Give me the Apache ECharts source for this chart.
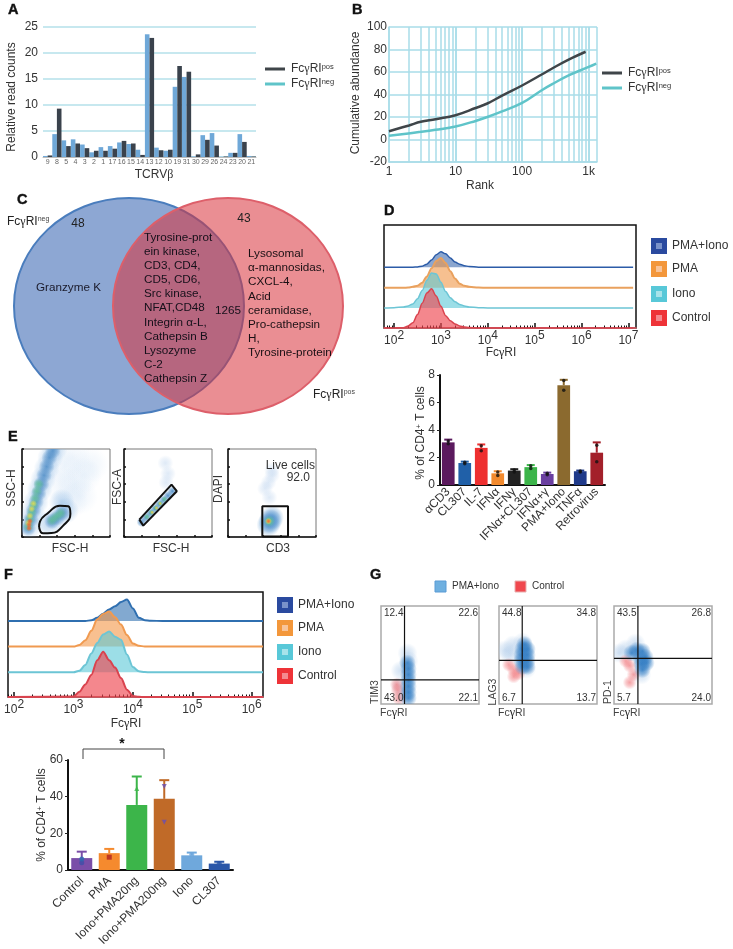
<!DOCTYPE html>
<html lang="en">
<head>
<meta charset="UTF-8">
<title>FcγRI figure</title>
<script src="https://cdn.jsdelivr.net/npm/echarts@6/dist/echarts.min.js"></script>
<style>
  html, body { margin: 0; padding: 0; background: #fff; }
  #main { width: 733px; height: 949px; }
</style>
</head>
<body>
<div id="main"></div>
<script>
// panel A
var tcrLabels = ['9','8','5','4','3','2','1','17','16','15','14','13','12','10','19','31','30','29','26','24','23','20','21'];
var tcrNeg = [0.2,4.4,3.2,3.4,2.4,0.9,1.9,2.1,2.8,2.5,1.4,23.6,1.8,1.2,13.5,15.4,0.1,4.2,4.6,0.05,0.8,4.4,0.2];
var tcrPos = [0.3,9.3,2.1,2.6,1.7,1.2,1.2,1.6,3.1,2.6,0.4,22.9,1.3,1.4,17.5,16.4,0.5,3.3,2.2,0.1,0.8,2.9,0.1];

// panel B
var rankPos = [[1,7.4],[2,12.5],[3,15.7],[5,18],[10,21.6],[20,28],[30,32],[50,39],[100,48],[200,58],[300,64],[500,71],[900,78]];
var rankNeg = [[1,3.3],[3,6.8],[5,8.6],[10,11.5],[20,16.5],[30,20],[50,25],[100,32.5],[200,44],[300,50],[500,57],[1000,64.5],[1300,67.5]];
var rankGrid = [2,3,4,5,6,7,8,9,20,30,40,50,60,70,80,90,200,300,400,500,600,700,800,900];

// panel D histograms
var dExp = [1.79,2.0,2.2,2.3,2.4,2.5,2.6,2.7,2.8,2.9,3.0,3.1,3.2,3.3,3.4,3.5,3.6,3.8,4,5,6,7.1];
var dPmaIono = [0,0,0,0,0,0.3,1,3,7,12,15,13,9,5,3,1.5,0.6,0.1,0,0,0,0];
var dPma = [0,0,0,0.3,1,2,5,11,19,26,29,24,16,9,4,2,1,0.3,0,0,0,0];
var dIono = [0,0.3,1,2,4,9,17,27,34,33,25,16,10,6,3.5,2,1,0.3,0,0,0,0];
var dControl = [0,0,0.3,2,5,13,24,34,38,31,21,12,7,4,2,1,0.4,0,0,0,0,0];

// panel D bars
var dCats = ['αCD3','CL307','IL-7','IFNα','IFNγ','IFNα+CL307','IFNα+γ','PMA+Iono','TNFα','Retrovirus'];
var dVals = [3.1,1.6,2.7,0.85,1.05,1.3,0.8,7.25,1.0,2.35];
var dErrTop = [3.3,1.7,2.95,1.0,1.15,1.45,0.9,7.65,1.05,3.1];
var dColors = ['#5b1a5e','#2060a8','#ee3030','#f28a2e','#222222','#3cb54a','#6a3fa0','#8b6a2f','#1f3a8a','#a3202a'];
var dDots = [[0,3.0],[0,3.2],[1,1.55],[1,1.65],[2,2.5],[2,2.85],[3,0.7],[3,0.95],[4,0.95],[4,1.1],[5,1.2],[5,1.4],[6,0.75],[6,0.85],[7,6.9],[7,7.6],[8,0.95],[8,1.02],[9,1.7],[9,2.9]];

// panel E gates and density blobs
var e1Gate = [[19.4,11.4],[24,4.2],[33.4,4.5],[46.8,12.9],[55,26.5],[52.5,34.9],[43,35.6],[29.6,27.3],[20.5,17.8],[19.4,11.4]];
var e2Gate = [[17.4,19.7],[21.9,12.9],[60,52],[54,59.5],[17.4,19.7]];
var e3Gate = [[39,0.5],[39,34.9],[68.2,34.9],[68.2,0.5],[39,0.5]];
var e1Halo = [[60,60],[70,70],[78,82],[55,42],[66,46],[48,80],[58,90],[45,60]];
var e1Pale = [[8,12],[12,26],[16,40],[20,54],[24,66],[28,78],[32,90],[37,100],[30,15],[40,22],[50,30],[45,40]];
var e1Blue = [[7,10],[10,20],[13,30],[16,40],[19,50],[22,60],[25,70],[28,80],[31,90],[35,98],[34,18],[40,22],[46,27]];
var e1Green = [[7,12],[9,20],[11,28],[13,36],[15,44],[17,52],[19,60],[34,19],[39,23],[44,27]];
var e1Yellow = [[7,16],[9,24],[11,32],[13,38]];
var e1Red = [[8,10],[8,14],[9,18]];
var e2Pale = [[48,62],[50,72],[47,84]];
var e2Blue = [[20,17],[25,22],[30,27],[35,32],[40,37],[45,42],[50,47],[55,52]];
var e2Green = [[26,23],[31,28],[36,33],[41,38],[46,43]];
var e2Yellow = [[32,28],[37,33],[41,38]];
var e3Pale = [[46,62],[42,55],[50,70],[47,45],[50,76],[48,18]];
var e3Blue = [[48,18],[46,14],[50,22]];
var e3Green = [[47,18]];
var e3Yellow = [[46,18]];
var e3Red = [[46,18]];

// panel F histograms
var fExp = [1.9,3.0,3.1,3.2,3.3,3.4,3.5,3.6,3.7,3.8,3.9,4.0,4.1,4.2,4.3,4.5,6.19];
var fPmaIono = [0,0,0,0,0.7,3,7,11,14,18,20.5,12,3,0.8,0.2,0,0];
var fPma = [0,0,1.5,6,15,26,31,33.5,28,21,11,3,0.7,0.2,0,0,0];
var fIono = [0,0,1.5,7,18,28,36,39,34,31,17,5,1,0.3,0,0,0];
var fControl = [0,0.5,5,12,21,35,43,35,28,18,7,1,0.2,0,0,0,0];

// panel F bars
var fCats = ['Control','PMA','Iono+PMA20ng','Iono+PMA200ng','Iono','CL307'];
var fVals = [6.5,9.2,35.5,38.8,8,3.5];
var fErrTop = [10,11.5,51,49,9.5,4.5];
var fColors = ['#7a4ea8','#f58a2e','#3cb54a','#c06a28','#6fa8dc','#2a56a8'];
var fDots = [[0,4,'#3f4fa8','circle'],[0,6,'#2a6ab0','circle'],[1,7,'#b22222','rect'],[2,44.5,'#3cb54a','triangle'],[3,45.5,'#6a4fb0','path://M0,0L10,0L5,10Z'],[3,26,'#6a4fb0','path://M0,0L10,0L5,10Z'],[4,8.5,'#6fa8dc','circle'],[5,3.5,'#2a56a8','circle']];

// panel G
var gLabels = [['12.4','22.6','43.0','22.1'],['44.8','34.8','6.7','13.7'],['43.5','26.8','5.7','24.0']];
var gNames = ['TIM3','LAG3','PD-1'];
var gQuad = [[24,24.7],[23.7,44.6],[24.4,46.6]];
var gPale = [[[20,34],[28,44],[27,52],[24,8],[20,18]],[[12,50],[6,55],[14,60],[28,36],[24,63]],[[5,52],[12,56],[28,30],[22,62],[30,40]]];
var gBlue = [[[28,6],[28,12],[28,18],[28,24],[28,30],[28,36],[27,42]],[[24,38],[29,38],[23,44],[29,44],[23,50],[29,50],[24,56],[29,56],[26,61]],[[18,52],[23,55],[29,54],[27,47],[32,48],[28,41],[33,42],[29,35]]];
var gRed = [[[17,14],[18,6],[16,20]],[[15,35],[10,40],[20,31],[15,28]],[[16,39],[12,44],[20,30],[16,22]]];

var FONT = 'Liberation Sans';
var TXT = '#333';
var GRIDBLUE = '#a9dce8';

var grids = [], xAxes = [], yAxes = [], series = [], gfx = [];

function addGrid(left, top, width, height, xAxis, yAxis, extra) {
    grids.push(Object.assign({ left: left, top: top, width: width, height: height }, extra || {}));
    var g = grids.length - 1;
    xAxes.push(Object.assign({ gridIndex: g }, xAxis));
    yAxes.push(Object.assign({ gridIndex: g }, yAxis));
    return { x: xAxes.length - 1, y: yAxes.length - 1, g: g };
}

var fcRich = {
    g: { fontFamily: 'Liberation Serif', fontSize: 12, fill: TXT },
    s: { fontFamily: FONT, fontSize: 7.5, fill: TXT, verticalAlign: 'top' },
    sg: { fontFamily: 'Liberation Serif', fontSize: 12, fill: '#222' },
    ss: { fontFamily: FONT, fontSize: 7, fill: '#444', verticalAlign: 'top' }
};

function txt(x, y, text, size, opts) {
    opts = opts || {};
    gfx.push({
        type: 'text', x: x, y: y, z: 50, rotation: opts.rot || 0, silent: true,
        style: {
            text: text, fontFamily: FONT, fontSize: size, fontWeight: opts.weight || 'normal',
            fill: opts.color || TXT, align: opts.align || 'left', verticalAlign: 'middle',
            stroke: opts.stroke || null, lineWidth: opts.stroke ? 0.4 : 0,
            rich: fcRich
        }
    });
}

function panelLetter(x, y, s) {
    txt(x, y, s, 14.5, { weight: 900, color: '#111', stroke: '#111' });
}

function legendLine(x, y, color) {
    gfx.push({ type: 'line', z: 50, shape: { x1: x, y1: y, x2: x + 20, y2: y }, style: { stroke: color, lineWidth: 3 } });
}

function legendSquare(x, y, outer, inner, label) {
    gfx.push({ type: 'rect', z: 50, shape: { x: x, y: y, width: 16, height: 16 }, style: { fill: outer } });
    gfx.push({ type: 'rect', z: 51, shape: { x: x + 5, y: y + 5, width: 6, height: 6 }, style: { fill: inner } });
    txt(x + 21, y + 8, label, 12);
}

// soft density blob, clipped to its own box
function cloud(ax, pts, rgb, size, alpha) {
    var grad = new echarts.graphic.RadialGradient(0.5, 0.5, 0.5, [
        { offset: 0, color: 'rgba(' + rgb + ',' + alpha + ')' },
        { offset: 0.55, color: 'rgba(' + rgb + ',' + alpha * 0.55 + ')' },
        { offset: 1, color: 'rgba(' + rgb + ',0)' }
    ]);
    series.push({
        type: 'custom', xAxisIndex: ax.x, yAxisIndex: ax.y, data: pts, silent: true, z: 3,
        encode: { x: 0, y: 1 },
        renderItem: function (params, api) {
            var c = api.coord([api.value(0), api.value(1)]);
            var a = params.coordSys;
            return {
                type: 'circle', shape: { cx: c[0], cy: c[1], r: size / 2 }, style: { fill: grad },
                clipPath: { type: 'rect', shape: { x: a.x - c[0], y: a.y - c[1], width: a.width, height: a.height }, position: [c[0], c[1]] }
            };
        }
    });
}

function gateLine(ax, pts, smooth) {
    series.push({
        type: 'line', xAxisIndex: ax.x, yAxisIndex: ax.y, data: pts, showSymbol: false, silent: true, z: 5, smooth: smooth ? 0.5 : false,
        lineStyle: { color: '#111', width: 2 }
    });
}

var hiddenVal = { type: 'value', min: 0, max: 100, show: false };

// A
var axA = addGrid(43, 27, 213, 130,
    { type: 'category', data: tcrLabels, axisLine: { lineStyle: { color: '#bbb' } }, axisTick: { show: false },
      axisLabel: { interval: 0, fontSize: 7, color: '#666', margin: 2, fontFamily: FONT } },
    { type: 'value', min: 0, max: 25, interval: 5, axisLine: { show: false }, axisTick: { show: false },
      axisLabel: { fontSize: 12, color: TXT, margin: 5, fontFamily: FONT },
      splitLine: { lineStyle: { color: '#b5e0ea', width: 1.5 } } });
series.push({ type: 'bar', xAxisIndex: axA.x, yAxisIndex: axA.y, data: tcrNeg, barWidth: 4.6, barGap: 0, itemStyle: { color: '#6fa8d8' } });
series.push({ type: 'bar', xAxisIndex: axA.x, yAxisIndex: axA.y, data: tcrPos, barWidth: 4.6, barGap: 0, itemStyle: { color: '#3a424c' } });
panelLetter(8, 10, 'A');
txt(12, 97, 'Relative read counts', 12, { rot: Math.PI / 2, align: 'center' });
txt(154, 175, 'TCRV{g|β}', 12, { align: 'center' });
legendLine(265, 69, '#3f4549');
legendLine(265, 84, '#5fc4c9');
txt(291, 69, 'Fc{g|γ}RI{s|pos}', 12);
txt(291, 84, 'Fc{g|γ}RI{s|neg}', 12);

// B
var axB = addGrid(389, 27, 208, 135,
    { type: 'log', logBase: 10, min: 1, max: 1334, axisLine: { onZero: false, lineStyle: { color: GRIDBLUE, width: 1.5 } }, axisTick: { show: false },
      axisLabel: { fontSize: 12, color: TXT, margin: 4, fontFamily: FONT, customValues: [1, 10, 100, 1000],
                   formatter: function (v) { return v >= 1000 ? '1k' : String(v); } },
      splitLine: { show: true, lineStyle: { color: GRIDBLUE, width: 1.5 } } },
    { type: 'value', min: -20, max: 100, interval: 20, axisLine: { onZero: false, lineStyle: { color: GRIDBLUE, width: 1.5 } }, axisTick: { show: false },
      axisLabel: { fontSize: 12, color: TXT, margin: 2, fontFamily: FONT },
      splitLine: { lineStyle: { color: GRIDBLUE, width: 1.5 } } });
series.push({
    type: 'line', xAxisIndex: axB.x, yAxisIndex: axB.y, data: [], silent: true, z: 1,
    markLine: { silent: true, symbol: 'none', z: 1, label: { show: false }, animation: false,
        lineStyle: { color: GRIDBLUE, width: 1.5, type: 'solid' },
        data: rankGrid.concat([10, 100, 1000]).map(function (v) { return { xAxis: v }; }) }
});
series.push({ type: 'line', xAxisIndex: axB.x, yAxisIndex: axB.y, data: rankPos, smooth: 0.4, showSymbol: false, z: 4, lineStyle: { color: '#3f4549', width: 2.5 } });
series.push({ type: 'line', xAxisIndex: axB.x, yAxisIndex: axB.y, data: rankNeg, smooth: 0.4, showSymbol: false, z: 4, lineStyle: { color: '#5fc4c9', width: 2.5 } });
panelLetter(352, 10, 'B');
txt(356, 93, 'Cumulative abundance', 12, { rot: Math.PI / 2, align: 'center' });
txt(480, 186, 'Rank', 12, { align: 'center' });
legendLine(602, 73, '#3f4549');
legendLine(602, 88, '#5fc4c9');
txt(628, 73, 'Fc{g|γ}RI{s|pos}', 12);
txt(628, 88, 'Fc{g|γ}RI{s|neg}', 12);

// C venn
gfx.push({ type: 'ellipse', z: 10, shape: { cx: 129, cy: 306, rx: 115, ry: 108 }, style: { fill: '#8da7d3', stroke: '#4a7dbd', lineWidth: 2 } });
gfx.push({ type: 'ellipse', z: 11, shape: { cx: 228, cy: 306, rx: 115, ry: 108 }, style: { fill: 'rgba(217,50,59,0.55)', stroke: '#dd5f6a', lineWidth: 2 } });
panelLetter(17, 200, 'C');
txt(7, 222, 'Fc{sg|γ}RI{ss|neg}', 12, { color: '#222' });
txt(78, 224, '48', 12, { align: 'center', color: '#222' });
txt(244, 219, '43', 12, { align: 'center', color: '#222' });
txt(36, 288, 'Granzyme K', 11.7, { color: '#1a1a2a' });
['Tyrosine-prot','ein kinase,','CD3, CD4,','CD5, CD6,','Src kinase,','NFAT,CD48','Integrin α-L,','Cathepsin B','Lysozyme','C-2','Cathepsin Z'].forEach(function (s, i) {
    txt(144, 237.7 + i * 14.1, s, 11.7, { color: '#15101a' });
});
['Lysosomal','α-mannosidas,','CXCL-4,','Acid','ceramidase,','Pro-cathepsin','H,','Tyrosine-protein'].forEach(function (s, i) {
    txt(248, 254 + i * 14.1, s, 11.7, { color: '#1a1014' });
});
txt(215, 311, '1265', 11.7, { color: '#15101a' });
txt(313, 395, 'Fc{sg|γ}RI{ss|pos}', 12, { color: '#222' });

// histogram box used by D and F
function histBox(left, top, width, height, min, max, labelVals, labelMargin) {
    var minors = [];
    labelVals.concat([labelVals[0] / 10]).forEach(function (p) {
        for (var m = 2; m < 10; m++) { minors.push(p * m); }
    });
    var ax = addGrid(left, top, width, height,
        { type: 'log', logBase: 10, min: min, max: max, axisLine: { show: true, onZero: false, lineStyle: { color: '#e8606a', width: 1.5 } },
          axisTick: { show: true, inside: true, length: 5, customValues: labelVals, lineStyle: { color: '#111', width: 1.5 } },
          axisLabel: { fontSize: 12, color: TXT, margin: labelMargin, fontFamily: FONT, customValues: labelVals,
                       rich: { b: { fontSize: 12, color: TXT, fontFamily: FONT, lineHeight: 17, verticalAlign: 'bottom' },
                               s: { fontSize: 12, color: TXT, fontFamily: FONT, lineHeight: 12, verticalAlign: 'top' } },
                       formatter: function (v) { return '{b|10}{s|' + Math.round(Math.log10(v)) + '}'; } },
          splitLine: { show: false } },
        hiddenVal,
        { show: true, borderColor: '#111', borderWidth: 1.5, backgroundColor: '#fff' });
    xAxes.push({ gridIndex: ax.g, type: 'log', logBase: 10, min: min, max: max, position: 'bottom',
        axisLine: { show: false }, axisLabel: { show: false }, splitLine: { show: false },
        axisTick: { show: true, inside: true, length: 2.5, customValues: minors, lineStyle: { color: '#111', width: 1 } } });
    return ax;
}

function hist(ax, exps, heights, base, line, fill, width) {
    series.push({
        type: 'line', xAxisIndex: ax.x, yAxisIndex: ax.y, silent: true, showSymbol: false, z: 3,
        smooth: 0.3, smoothMonotone: 'x',
        data: exps.map(function (e, i) { return [Math.pow(10, e), base + heights[i]]; }),
        lineStyle: { color: line, width: width },
        areaStyle: { origin: base, color: fill, opacity: 1 }
    });
}

// D
var axD = histBox(384, 225, 252, 103, 61, 1.45e7, [1e2, 1e3, 1e4, 1e5, 1e6, 1e7], 2);
hist(axD, dExp, dPmaIono, 59, '#2c5ca8', 'rgba(44,92,168,0.55)', 1.5);
hist(axD, dExp, dPma, 39, '#e9a15e', 'rgba(240,150,70,0.6)', 2);
hist(axD, dExp, dIono, 19.4, '#6cc5d5', 'rgba(90,200,215,0.6)', 1.5);
hist(axD, dExp, dControl, 0, '#d9434e', 'rgba(238,70,80,0.65)', 1.5);
panelLetter(384, 211, 'D');
txt(501, 353, 'Fc{sg|γ}RI', 12, { align: 'center' });
legendSquare(651, 238, '#2a4a9f', '#7a92c9', 'PMA+Iono');
legendSquare(651, 261, '#f3973b', '#f8c49a', 'PMA');
legendSquare(651, 286, '#58c8d8', '#a8e3ea', 'Iono');
legendSquare(651, 310, '#ee3338', '#f48a8f', 'Control');

// bars with error whiskers
function barPlot(left, top, width, height, cats, vals, errs, colors, maxY, step, barW, capW, margin, labelSize) {
    var ax = addGrid(left, top, width, height,
        { type: 'category', data: cats, axisLine: { lineStyle: { color: '#111', width: 2 } },
          axisTick: { alignWithLabel: true, length: 3, lineStyle: { color: '#222' } },
          axisLabel: { interval: 0, rotate: 45, fontSize: labelSize, color: TXT, margin: margin, fontFamily: FONT } },
        { type: 'value', min: 0, max: maxY, interval: step, axisLine: { show: true, lineStyle: { color: '#111', width: 2 } },
          axisTick: { show: true, length: 3, lineStyle: { color: '#222' } }, splitLine: { show: false },
          axisLabel: { fontSize: 12, color: TXT, margin: 5, fontFamily: FONT } });
    series.push({
        type: 'custom', xAxisIndex: ax.x, yAxisIndex: ax.y, silent: true, z: 2,
        data: vals.map(function (v, i) { return [i, v, errs[i]]; }),
        encode: { x: 0, y: [1, 2] },
        renderItem: function (params, api) {
            var a = api.coord([api.value(0), api.value(1)]);
            var b = api.coord([api.value(0), api.value(2)]);
            var st = { stroke: colors[params.dataIndex], lineWidth: 2 };
            return { type: 'group', children: [
                { type: 'line', shape: { x1: a[0], y1: a[1], x2: b[0], y2: b[1] }, style: st },
                { type: 'line', shape: { x1: b[0] - capW, y1: b[1], x2: b[0] + capW, y2: b[1] }, style: st }
            ] };
        }
    });
    series.push({
        type: 'bar', xAxisIndex: ax.x, yAxisIndex: ax.y, barWidth: barW, z: 3, silent: true,
        data: vals.map(function (v, i) { return { value: v, itemStyle: { color: colors[i] } }; })
    });
    return ax;
}

var axDb = barPlot(440, 375, 165, 110, dCats, dVals, dErrTop, dColors, 8, 2, 12.7, 4, 5, 12);
series.push({ type: 'scatter', xAxisIndex: axDb.x, yAxisIndex: axDb.y, data: dDots, symbolSize: 3.5, silent: true, z: 5, itemStyle: { color: '#111' } });
txt(421, 433, '% of CD4{s|+} T cells', 12, { rot: Math.PI / 2, align: 'center' });

// E
var tickAxis = { type: 'value', min: 0, max: 100, interval: 20, axisLine: { show: true, onZero: false, lineStyle: { color: '#111', width: 1.5 } },
    axisTick: { show: true, inside: true, length: 2, lineStyle: { color: '#111', width: 1.5 } }, axisLabel: { show: false }, splitLine: { show: false } };
var boxStyle = { show: true, borderColor: '#777', borderWidth: 1, backgroundColor: '#fff' };
var axE1 = addGrid(22, 449, 88, 88, tickAxis, tickAxis, boxStyle);
cloud(axE1, e1Halo, '205,224,244', 36, 0.3);
cloud(axE1, e1Pale, '150,190,230', 26, 0.6);
cloud(axE1, e1Blue, '70,135,195', 16, 0.8);
cloud(axE1, e1Green, '100,195,150', 11, 0.85);
cloud(axE1, e1Yellow, '225,220,80', 7, 0.9);
cloud(axE1, e1Red, '240,100,50', 6, 1);
gateLine(axE1, e1Gate, true);
var axE2 = addGrid(124, 449, 88, 88, tickAxis, tickAxis, boxStyle);
cloud(axE2, e2Pale, '190,212,238', 16, 0.5);
cloud(axE2, e2Blue, '70,135,195', 10, 0.9);
cloud(axE2, e2Green, '100,195,150', 6, 0.95);
cloud(axE2, e2Yellow, '225,200,80', 4, 1);
gateLine(axE2, e2Gate, false);
var axE3 = addGrid(228, 449, 88, 88, tickAxis, tickAxis, boxStyle);
cloud(axE3, e3Pale, '190,212,238', 16, 0.5);
cloud(axE3, e3Blue, '80,145,205', 24, 0.8);
cloud(axE3, e3Green, '100,195,150', 12, 0.95);
cloud(axE3, e3Yellow, '225,220,80', 7, 1);
cloud(axE3, e3Red, '240,110,60', 5, 1);
gateLine(axE3, e3Gate, false);
panelLetter(8, 437, 'E');
txt(12, 488, 'SSC-H', 12, { rot: Math.PI / 2, align: 'center' });
txt(70, 549, 'FSC-H', 12, { align: 'center' });
txt(118, 487, 'FSC-A', 12, { rot: Math.PI / 2, align: 'center' });
txt(171, 549, 'FSC-H', 12, { align: 'center' });
txt(219, 489, 'DAPI', 12, { rot: Math.PI / 2, align: 'center' });
txt(278, 549, 'CD3', 12, { align: 'center' });
txt(315, 466, 'Live cells', 12, { align: 'right' });
txt(310, 478, '92.0', 12, { align: 'right' });

// F
var axF = histBox(8, 592, 255, 105, 79, 1.55e6, [1e2, 1e3, 1e4, 1e5, 1e6], 2);
hist(axF, fExp, fPmaIono, 72.4, '#2f6fb0', 'rgba(47,111,176,0.6)', 2);
hist(axF, fExp, fPma, 48, '#f09a50', 'rgba(243,150,70,0.6)', 2);
hist(axF, fExp, fIono, 23.5, '#6cc5d5', 'rgba(90,200,215,0.6)', 2);
hist(axF, fExp, fControl, 0, '#d9434e', 'rgba(238,70,80,0.65)', 2);
panelLetter(4, 575, 'F');
txt(126, 724, 'Fc{sg|γ}RI', 12, { align: 'center' });
legendSquare(277, 597, '#2a4a9f', '#7a92c9', 'PMA+Iono');
legendSquare(277, 620, '#f3973b', '#f8c49a', 'PMA');
legendSquare(277, 644, '#58c8d8', '#a8e3ea', 'Iono');
legendSquare(277, 668, '#ee3338', '#f48a8f', 'Control');

var axFb = barPlot(68, 760, 165, 110, fCats, fVals, fErrTop, fColors, 60, 20, 21, 5, 9, 12);
fDots.forEach(function (d) {
    series.push({ type: 'scatter', xAxisIndex: axFb.x, yAxisIndex: axFb.y, data: [[d[0], d[1]]], symbol: d[3], symbolSize: 5, silent: true, z: 5, itemStyle: { color: d[2] } });
});
txt(42, 815, '% of CD4{s|+} T cells', 12, { rot: Math.PI / 2, align: 'center' });
gfx.push({ type: 'polyline', z: 50, shape: { points: [[83, 759], [83, 749], [164, 749], [164, 759]] }, style: { stroke: '#444', lineWidth: 1, fill: null } });
txt(122, 744, '*', 14, { align: 'center', weight: 'bold', color: '#111' });

// G
var gBoxes = [[381, 606], [499, 606], [614, 606]];
gBoxes.forEach(function (b, i) {
    var ax = addGrid(b[0], b[1], 98, 98, hiddenVal, hiddenVal, { show: true, borderColor: '#aaa', borderWidth: 1.5, backgroundColor: '#fff' });
    cloud(ax, gPale[i], '170,200,232', 20, 0.55);
    cloud(ax, gRed[i], '240,120,125', 14, 0.7);
    cloud(ax, gBlue[i], '50,125,195', 17, 0.85);
    series.push({ type: 'line', xAxisIndex: ax.x, yAxisIndex: ax.y, silent: true, showSymbol: false, z: 5, lineStyle: { color: '#111', width: 1.2 }, data: [[gQuad[i][0], 0], [gQuad[i][0], 100]] });
    series.push({ type: 'line', xAxisIndex: ax.x, yAxisIndex: ax.y, silent: true, showSymbol: false, z: 5, lineStyle: { color: '#111', width: 1.2 }, data: [[0, gQuad[i][1]], [100, gQuad[i][1]]] });
    var l = gLabels[i];
    txt(b[0] + 3, b[1] + 7, l[0], 10);
    txt(b[0] + 97, b[1] + 7, l[1], 10, { align: 'right' });
    txt(b[0] + 3, b[1] + 92, l[2], 10);
    txt(b[0] + 97, b[1] + 92, l[3], 10, { align: 'right' });
    txt(b[0] - 6, b[1] + 86, gNames[i], 10.5, { rot: Math.PI / 2, align: 'center', color: '#444' });
    txt(b[0] - 1, b[1] + 107, 'Fc{sg|γ}RI', 10.5, { color: '#444' });
});
gfx.push({ type: 'rect', z: 50, shape: { x: 435, y: 581, width: 11, height: 11 }, style: { fill: '#6fb0e0', stroke: '#5b9bd5' } });
gfx.push({ type: 'rect', z: 50, shape: { x: 515, y: 581, width: 11, height: 11 }, style: { fill: '#f0484e', stroke: '#e8b0b0' } });
txt(452, 586, 'PMA+Iono', 10);
txt(532, 586, 'Control', 10);
panelLetter(370, 575, 'G');

var chart = echarts.init(document.getElementById('main'), null, { renderer: 'canvas' });
chart.setOption({
    animation: false,
    backgroundColor: '#fff',
    textStyle: { fontFamily: FONT },
    grid: grids,
    xAxis: xAxes,
    yAxis: yAxes,
    series: series,
    graphic: { elements: gfx }
});
</script>
</body>
</html>
